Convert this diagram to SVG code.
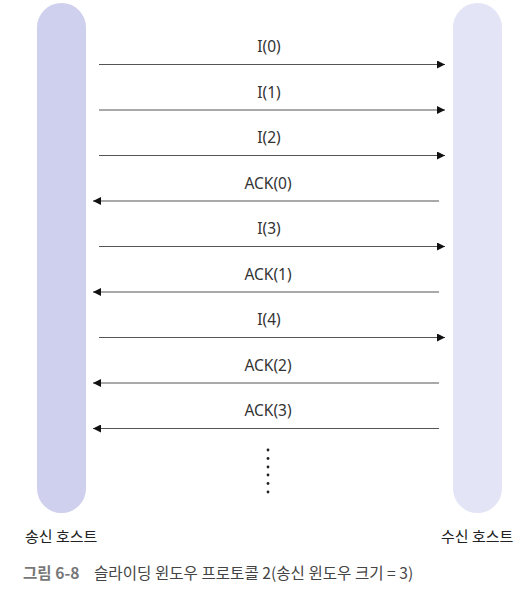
<svg xmlns="http://www.w3.org/2000/svg" width="520" height="590" viewBox="0 0 520 590">
<style>
.lbl{font-family:"Noto Sans","Noto Sans CJK KR",sans-serif;font-size:15.5px;fill:#333;text-anchor:middle}
.host{font-family:"Noto Sans CJK KR",sans-serif;font-size:15px;fill:#222}
.cap{font-family:"Noto Sans CJK KR",sans-serif;font-size:15.6px;fill:#444}
.ln{stroke:#555;stroke-width:1.2;fill:none}
</style>
<defs>
<marker id="ah" viewBox="0 0 10 10" refX="10" refY="5" markerWidth="10" markerHeight="8" markerUnits="userSpaceOnUse" orient="auto">
<path d="M0,0 L10,5 L0,10 z" fill="#111"/>
</marker>
</defs>
<rect width="520" height="590" fill="#fff"/>
<g id="sender">
<rect x="37" y="3" width="49" height="510" rx="24.5" fill="#cfcfee"/>
<text class="host" x="25" y="542">송신 호스트</text>
</g>
<g id="receiver">
<rect x="453" y="3" width="49" height="510" rx="24.5" fill="#e4e4f7"/>
<text class="host" x="441" y="542">수신 호스트</text>
</g>
<g id="connectors">
<line class="ln" x1="99" y1="64.5" x2="445" y2="64.5" marker-end="url(#ah)"/>
<text class="lbl" x="269" y="52">I(0)</text>
<line class="ln" x1="99" y1="110" x2="445" y2="110" marker-end="url(#ah)"/>
<text class="lbl" x="269" y="97.5">I(1)</text>
<line class="ln" x1="99" y1="155.5" x2="445" y2="155.5" marker-end="url(#ah)"/>
<text class="lbl" x="269" y="143">I(2)</text>
<line class="ln" x1="439" y1="201" x2="93" y2="201" marker-end="url(#ah)"/>
<text class="lbl" x="268" y="188.5">ACK(0)</text>
<line class="ln" x1="99" y1="246.5" x2="445" y2="246.5" marker-end="url(#ah)"/>
<text class="lbl" x="269" y="234">I(3)</text>
<line class="ln" x1="439" y1="292" x2="93" y2="292" marker-end="url(#ah)"/>
<text class="lbl" x="268" y="279.5">ACK(1)</text>
<line class="ln" x1="99" y1="337.5" x2="445" y2="337.5" marker-end="url(#ah)"/>
<text class="lbl" x="269" y="325">I(4)</text>
<line class="ln" x1="439" y1="383" x2="93" y2="383" marker-end="url(#ah)"/>
<text class="lbl" x="268" y="370.5">ACK(2)</text>
<line class="ln" x1="439" y1="428.5" x2="93" y2="428.5" marker-end="url(#ah)"/>
<text class="lbl" x="268" y="416">ACK(3)</text>
</g>
<g id="dots" fill="#222">
<circle cx="268" cy="450" r="1.4"/>
<circle cx="268" cy="458.5" r="1.4"/>
<circle cx="268" cy="467" r="1.4"/>
<circle cx="268" cy="475" r="1.4"/>
<circle cx="268" cy="483.5" r="1.4"/>
<circle cx="268" cy="492" r="1.4"/>
</g>
<g id="caption">
<text class="cap" x="23" y="579"><tspan font-weight="bold" fill="#777">그림 6-8</tspan><tspan x="94">슬라이딩 윈도우 프로토콜 2(송신 윈도우 크기 = 3)</tspan></text>
</g>
</svg>
